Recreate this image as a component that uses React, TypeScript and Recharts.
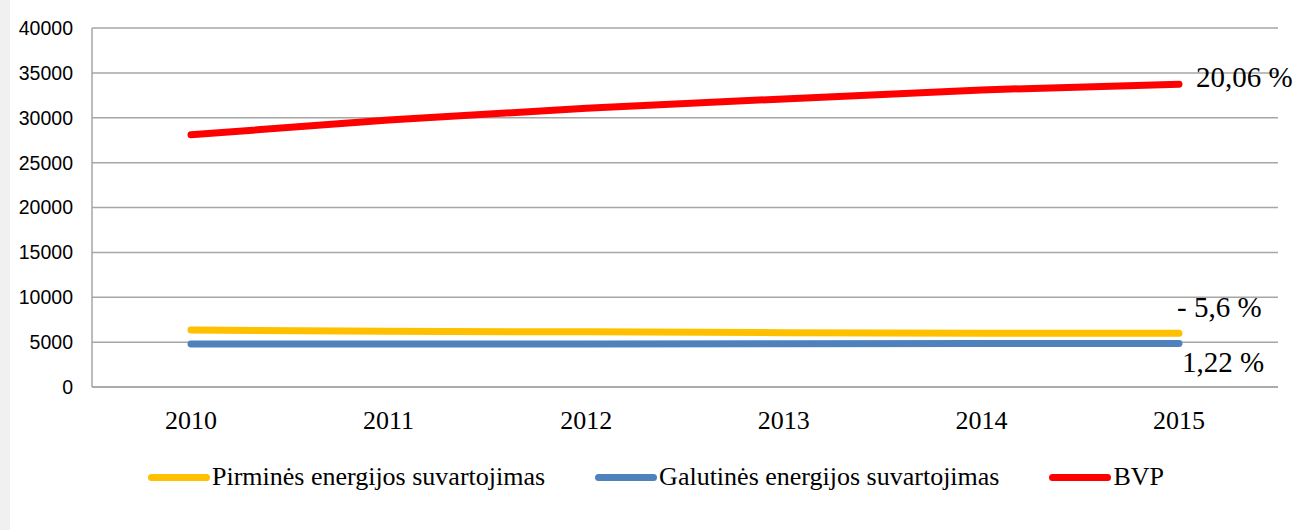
import React from "react";
import {
  LineChart,
  Line,
  XAxis,
  YAxis,
  CartesianGrid,
  Legend,
} from "recharts";

// Energy consumption vs GDP, 2010-2015
const years = ["2010", "2011", "2012", "2013", "2014", "2015"];
const primary = [6350, 6200, 6150, 6050, 6000, 6000];
const final = [4800, 4780, 4800, 4830, 4840, 4860];
const gdp = [28100, 29750, 31050, 32100, 33100, 33740];
const yTicks = [0, 5000, 10000, 15000, 20000, 25000, 30000, 35000, 40000];

const seriesOrder = ["primary", "final", "gdp"];
const names = {
  primary: "Pirminės energijos suvartojimas",
  final: "Galutinės energijos suvartojimas",
  gdp: "BVP",
};
const endNotes = { primary: "- 5,6 %", final: "1,22 %", gdp: "20,06 %" };

const data = years.map((y, i) => ({
  year: y,
  primary: primary[i],
  final: final[i],
  gdp: gdp[i],
}));

const serif = "'Liberation Serif', 'Times New Roman', serif";
const sans = "'Liberation Sans', Arial, sans-serif";
const gridColor = "#a6a6a6";

// text label next to the last point of a series
const endLabel = (note: string, dx: number, dy: number) => (p: any) => {
  if (p.index !== years.length - 1) return null;
  return (
    <text
      x={p.x + dx}
      y={p.y + dy}
      dy="0.35em"
      fontFamily={serif}
      fontSize={29}
      fill="#000"
    >
      {note}
    </text>
  );
};

const LegendRow = ({ payload }: any) => {
  const items = [...(payload || [])].sort(
    (a: any, b: any) =>
      seriesOrder.indexOf(a.dataKey) - seriesOrder.indexOf(b.dataKey),
  );
  return (
    <div
      style={{
        display: "flex",
        justifyContent: "center",
        alignItems: "center",
        gap: 50,
        paddingLeft: 14,
        fontFamily: serif,
        fontSize: 26,
        color: "#000",
      }}
    >
      {items.map((e: any) => (
        <div key={e.value} style={{ display: "flex", alignItems: "center" }}>
          <span
            style={{
              display: "inline-block",
              width: 62,
              height: 7,
              borderRadius: 4,
              background: e.color,
              marginRight: 2,
            }}
          />
          <span>{e.value}</span>
        </div>
      ))}
    </div>
  );
};

export default function App() {
  return (
    <div
      style={{
        position: "absolute",
        left: 0,
        top: 0,
        width: 1298,
        height: 530,
        background: "#fff",
      }}
    >
      <div
        style={{
          position: "absolute",
          left: 0,
          top: 0,
          width: 10,
          height: 530,
          background: "#f0f0f0",
        }}
      />
      <LineChart
        width={1298}
        height={530}
        data={data}
        margin={{ top: 28, right: 20, left: 10, bottom: 103 }}
      >
        <CartesianGrid vertical={false} stroke={gridColor} strokeWidth={1.5} />
        <XAxis
          dataKey="year"
          height={40}
          padding={{ left: 99, right: 99 }}
          tickLine={false}
          tickSize={0}
          tickMargin={24}
          axisLine={{ stroke: gridColor, strokeWidth: 1.5 }}
          tick={{ fontFamily: serif, fontSize: 26, fill: "#000" }}
        />
        <YAxis
          width={82}
          domain={[0, 40000]}
          ticks={yTicks}
          interval={0}
          tickLine={false}
          tickSize={0}
          tickMargin={19}
          axisLine={{ stroke: gridColor, strokeWidth: 1.5 }}
          tick={{ fontFamily: sans, fontSize: 19.5, fill: "#000" }}
        />
        <Legend
          verticalAlign="bottom"
          content={<LegendRow />}
          wrapperStyle={{ top: 462, bottom: "auto", left: 0, width: 1298, height: 0 }}
        />
        <Line
          type="linear"
          dataKey="primary"
          name={names.primary}
          stroke="#ffc000"
          strokeWidth={7}
          strokeLinecap="round"
          dot={false}
          isAnimationActive={false}
          label={endLabel(endNotes.primary, -2, -26)}
        />
        <Line
          type="linear"
          dataKey="final"
          name={names.final}
          stroke="#4f81bd"
          strokeWidth={7}
          strokeLinecap="round"
          dot={false}
          isAnimationActive={false}
          label={endLabel(endNotes.final, 3, 18)}
        />
        <Line
          type="linear"
          dataKey="gdp"
          name={names.gdp}
          stroke="#ff0000"
          strokeWidth={7}
          strokeLinecap="round"
          dot={false}
          isAnimationActive={false}
          label={endLabel(endNotes.gdp, 17, -7)}
        />
      </LineChart>
    </div>
  );
}
